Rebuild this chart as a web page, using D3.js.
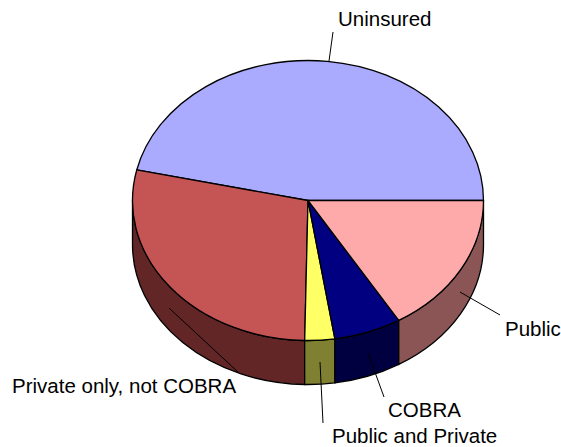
<!DOCTYPE html>
<html>
<head>
<meta charset="utf-8">
<script src="https://cdn.jsdelivr.net/npm/d3@7"></script>
<style>
    html, body { margin: 0; padding: 0; background: #fff; }
    svg { display: block; }
    text { font-family: "Liberation Sans", Arial, sans-serif; font-size: 20.5px; fill: #000; }
</style>
</head>
<body>
<div class="pie-chart"></div>
<script>
// ------------------------------------------------------
const categories = [ 'Uninsured', 'Private only, not COBRA', 'Public and Private', 'COBRA', 'Public' ];
const shares = [ 46.5, 28.2, 2.75, 6.2, 16.35 ];
const topColors = [ '#aaaaff', '#c55555', '#ffff66', '#000080', '#ffaaaa' ];
const wallColors = [ '#555580', '#622626', '#808033', '#000040', '#8b5555' ];
// ------------------------------------------------------
const plotWidth = 561;
const plotHeight = 447;
const centerX = 308;
const centerY = 200.5;
const radiusX = 175.5;
const radiusY = 140;
const depth = 44;
// label position and leader line, one per category
const labelX = [ 338, 12, 332, 388, 505 ];
const labelY = [ 26, 393, 443, 417, 336 ];
const leaders = [
    [ 333, 32, 329, 61 ],
    [ 169, 308, 238, 372 ],
    [ 320, 362, 323, 423 ],
    [ 368, 353, 384, 397 ],
    [ 460, 292, 500, 315 ]
];
// ------------------------------------------------------
const xScale = d3.scaleLinear().domain( [ -1, 1 ] ).range( [ centerX - radiusX, centerX + radiusX ] );
const yScale = d3.scaleLinear().domain( [ -1, 1 ] ).range( [ centerY + radiusY, centerY - radiusY ] );
const px = a => xScale( Math.sin( a ) );
const py = a => yScale( Math.cos( a ) );
const ellipse = ( a0, a1, sweep ) => {
    let large = Math.abs( a1 - a0 ) > Math.PI ? 1 : 0;
    return 'A' + radiusX + ',' + radiusY + ' 0 ' + large + ' ' + sweep + ' ';
};
// ------------------------------------------------------
window.addEventListener( 'load', function () {
    let plot = d3.select( '.pie-chart' )
        .append( 'svg' )
        .attr( 'width', plotWidth )
        .attr( 'height', plotHeight );
    // --------------------------------------------------
    // slices run anticlockwise from the east side of the pie
    let pie = d3.pie()
        .sort( null )
        .startAngle( Math.PI / 2 )
        .endAngle( Math.PI / 2 - 2 * Math.PI );
    let slices = pie( shares );
    // --------------------------------------------------
    // only the front half of the rim can be seen
    let walls = slices.filter( function ( d ) {
        return Math.min( d.startAngle, -Math.PI / 2 ) > Math.max( d.endAngle, -3 * Math.PI / 2 );
    });
    plot.selectAll( '.wall' )
        .data( walls )
        .enter()
        .append( 'path' )
        .classed( 'wall', true )
        .attr( 'fill', function ( d ) {
            return wallColors[ d.index ];
        })
        .attr( 'stroke', '#000' )
        .attr( 'stroke-width', 1.3 )
        .attr( 'd', function ( d ) {
            let a0 = Math.min( d.startAngle, -Math.PI / 2 );
            let a1 = Math.max( d.endAngle, -3 * Math.PI / 2 );
            return 'M' + px( a0 ) + ',' + py( a0 ) + ' '
                + ellipse( a0, a1, 0 ) + px( a1 ) + ',' + py( a1 ) + ' '
                + 'L' + px( a1 ) + ',' + ( py( a1 ) + depth ) + ' '
                + ellipse( a0, a1, 1 ) + px( a0 ) + ',' + ( py( a0 ) + depth ) + ' Z';
        });
    // --------------------------------------------------
    plot.selectAll( '.slice' )
        .data( slices )
        .enter()
        .append( 'path' )
        .classed( 'slice', true )
        .attr( 'fill', function ( d ) {
            return topColors[ d.index ];
        })
        .attr( 'stroke', '#000' )
        .attr( 'stroke-width', 1.3 )
        .attr( 'stroke-linejoin', 'round' )
        .attr( 'd', function ( d ) {
            return 'M' + centerX + ',' + centerY + ' '
                + 'L' + px( d.startAngle ) + ',' + py( d.startAngle ) + ' '
                + ellipse( d.startAngle, d.endAngle, 0 ) + px( d.endAngle ) + ',' + py( d.endAngle ) + ' Z';
        });
    // --------------------------------------------------
    plot.selectAll( '.leader' )
        .data( leaders )
        .enter()
        .append( 'line' )
        .classed( 'leader', true )
        .attr( 'x1', d => d[0] )
        .attr( 'y1', d => d[1] )
        .attr( 'x2', d => d[2] )
        .attr( 'y2', d => d[3] )
        .attr( 'stroke', '#000' )
        .attr( 'stroke-width', 1 );
    // --------------------------------------------------
    plot.selectAll( '.label' )
        .data( categories )
        .enter()
        .append( 'text' )
        .classed( 'label', true )
        .attr( 'x', function ( d, i ) {
            return labelX[i];
        })
        .attr( 'y', function ( d, i ) {
            return labelY[i];
        })
        .text( d => d );
}, false );
</script>
</body>
</html>
